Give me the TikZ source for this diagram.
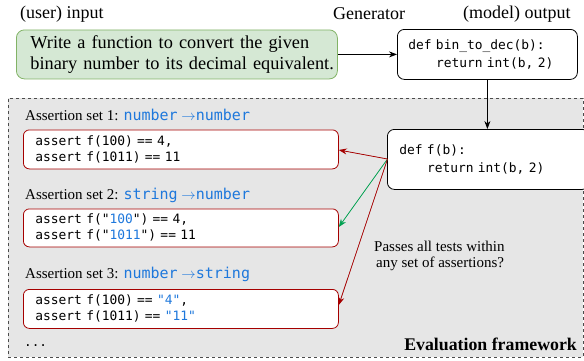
\documentclass[tikz,border=0pt]{standalone}
\usepackage{fontspec}
\setmainfont{Liberation Serif}
\setmonofont{DejaVu Sans Mono}
\usetikzlibrary{arrows.meta}
\definecolor{gfill}{HTML}{D5E8D4}
\definecolor{gdraw}{HTML}{82B366}
\definecolor{frame}{HTML}{E6E6E6}
\definecolor{dred}{HTML}{A50000}
\definecolor{dgreen}{HTML}{00A050}
\definecolor{cblue}{HTML}{1E78DC}
\newcommand{\cb}[1]{\textcolor{cblue}{#1}}
\newcommand{\tyarrow}{\textcolor{cblue}{$\rightarrow$}}
\tikzset{
  x=1pt,y=-1pt,
  lbl/.style={font=\fontsize{18}{21}\selectfont, inner sep=0pt},
  codebox/.style={draw=black, fill=white, rounded corners=7pt, line width=0.8pt, anchor=north west, align=left, inner ysep=0pt, font=\ttfamily\fontsize{12.9}{18.5}\selectfont},
  asbox/.style={draw=dred, fill=white, rounded corners=6pt, line width=0.8pt, anchor=north west, align=left, inner xsep=12pt, inner ysep=0pt, minimum width=315, text width=291, font=\ttfamily\fontsize{12.9}{16}\selectfont},
  aslbl/.style={anchor=west, inner sep=0pt, font=\fontsize{15}{17}\selectfont},
  arr/.style={-{Stealth[length=8pt,width=6pt]}, line width=0.75pt},
}
\begin{document}
\begin{tikzpicture}
\useasboundingbox (0,0) rectangle (584,360);
% evaluation frame
\node[draw=black!70, dashed, fill=frame, minimum width=575, minimum height=259, anchor=north west, inner sep=0pt] (frame) at (8,98) {};
% top labels
\node[lbl, anchor=west] (ulbl) at (20,14) {(user) input};
\node[lbl, anchor=west] (glbl) at (333,14) {Generator};
\node[lbl, anchor=west] (mlbl) at (463,14) {(model) output};
% input box
\node[draw=gdraw, fill=gfill, rounded corners=8pt, line width=0.8pt, anchor=north west, minimum width=321, minimum height=49, text width=293, inner xsep=14pt, inner ysep=0pt, align=left, font=\fontsize{18.3}{21}\selectfont] (inp) at (16,29.5) {\mbox{Write a function to convert the given}\\\mbox{binary number to its decimal equivalent.}};
% output box
\node[codebox, minimum width=180, minimum height=50, text width=158, inner xsep=11pt] (out) at (397,29) {def bin\_to\_dec(b):\\\phantom{abc}~return int(b, 2)};
% f(b) box
\node[codebox, minimum width=190, minimum height=60, text width=178, inner xsep=12pt] (fb) at (387,129) {def f(b):\\\phantom{abc}~return int(b, 2)};
% assertion sets
\node[aslbl] (l1) at (25,115) {Assertion set 1: \texttt{\cb{number}} \tyarrow\texttt{\cb{number}}};
\node[asbox, minimum height=39] (a1) at (23,129.5) {assert f(100) == 4,\\assert f(1011) == 11};
\node[aslbl] (l2) at (25,195) {Assertion set 2: \texttt{\cb{string}} \tyarrow\texttt{\cb{number}}};
\node[asbox, minimum height=38] (a2) at (23,208.5) {assert f("\cb{100}") == 4,\\assert f("\cb{1011}") == 11};
\node[aslbl] (l3) at (25,274) {Assertion set 3: \texttt{\cb{number}} \tyarrow\texttt{\cb{string}}};
\node[asbox, minimum height=39] (a3) at (23,289) {assert f(100) == \cb{"4"},\\assert f(1011) == \cb{"11"}};
\node[anchor=west, inner sep=0pt, font=\ttfamily\fontsize{12.7}{14}\selectfont] (dots) at (24,346) {...};
\node[anchor=east, inner sep=0pt, font=\bfseries\fontsize{17.8}{20}\selectfont] (ef) at (577,344) {Evaluation framework};
\node[anchor=west, inner sep=0pt, align=left, font=\fontsize{15}{18}\selectfont] (pass) at (374,246) {Passes all tests within};
\node[anchor=west, inner sep=0pt, align=left, font=\fontsize{15}{18}\selectfont] (pass2) at (376,264) {any set of assertions?};
% connectors
\draw[arr] (inp.east) -- (out.west);
\draw[arr] (out.south) -- (out.south |- fb.north);
\coordinate (src) at (387.5,159);
\draw[arr, draw=dred, fill=dred] (src) -- (a1.east |- 0,150);
\draw[arr, draw=dgreen, fill=dgreen] (src) -- (a2.east |- 0,227);
\draw[arr, draw=dred, fill=dred] (src) -- (a3.east |- 0,305);
\end{tikzpicture}
\end{document}
